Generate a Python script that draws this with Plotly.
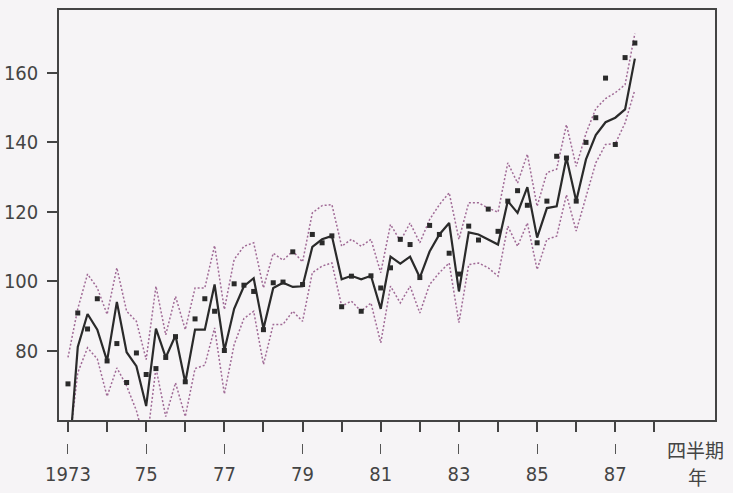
import plotly.graph_objects as go

# Quarterly series, 1973 Q1 - 1987 Q3
start_year = 1973
fitted = [45, 81, 90.5, 86, 77, 94, 79.5, 75.5, 64, 86.3,
          78, 84.3, 70.8, 86, 86, 99, 80, 92, 98.5, 100.8,
          86.3, 98, 99.5, 98.3, 98.5, 109.8, 112, 113, 100.5, 101.5,
          100.5, 101.5, 92, 107, 105, 107, 101, 108.5, 113.4, 116.7,
          97, 114, 113.4, 112, 110.5, 123, 119.6, 127, 112.5, 121,
          121.5, 135.5, 123, 135, 142, 145.7, 147, 149.4, 164]
upper = [78, 92, 102, 98, 90.4, 103.8, 91.3, 88.4, 77.4, 98.5,
         84.5, 95.6, 86, 98, 98, 110.2, 91.8, 106.2, 110, 111,
         98, 108, 106, 108.6, 105.5, 119.6, 121.7, 122, 110, 112,
         110, 112, 102.4, 116.3, 111.5, 116.7, 111, 117.7, 122, 125.4,
         112, 122.5, 122.5, 121, 119.8, 134, 128.2, 136.5, 121.5, 131.2,
         132.2, 145, 133, 142.5, 149.6, 152.5, 154.2, 156.5, 171.2]
lower = [50, 73.6, 80.8, 77.6, 66.8, 75, 69.8, 62.7, 52, 75,
         61, 70.7, 61, 74.8, 75.8, 86.5, 67.5, 81.7, 89.2, 91.3,
         76, 87.5, 87.5, 91.3, 88.4, 102.4, 104.3, 105.2, 92.8, 94.2,
         91.3, 93.7, 82.2, 98.5, 93.7, 98.5, 90.8, 99, 102.4, 105.2,
         88, 104.7, 105.2, 103.8, 101.4, 115.8, 110, 116.7, 103.3, 112,
         112.9, 124.8, 114.4, 124, 134, 139.3, 139.5, 145.5, 155]
actual = [70.4, 90.8, 86.2, 94.9, 77, 82, 70.8, 79.3, 73.1, 74.8,
          78, 84, 71, 89.1, 94.9, 91.3, 80, 99.2, 98.8, 97,
          86, 99.5, 99.7, 108.4, 99, 113.4, 111, 113, 92.6, 101.4,
          91.3, 101.5, 98, 103.8, 112, 110.5, 101, 116, 113.4, 108,
          102, 115.8, 111.8, 120.7, 114.3, 123, 126, 121.8, 111, 123,
          135.9, 135.4, 123, 139.9, 147, 158.4, 139.3, 164.3, 168.5]

y_ticks = [80, 100, 120, 140, 160]
quarter_ticks = list(range(1973, 1989))
year_ticks = [1973, 1975, 1977, 1979, 1981, 1983, 1985, 1987]
year_labels = ["1973", "75", "77", "79", "81", "83", "85", "87"]

x = [start_year + i / 4 for i in range(len(fitted))]

ink = "#444444"
band = "#a06a96"
font_main = "DejaVu Sans Condensed, DejaVu Sans, sans-serif"
x_range = [1972.77, 1989.55]

fig = go.Figure()
for series in (upper, lower):
    fig.add_trace(go.Scatter(x=x, y=series, mode="lines",
                             line=dict(color=band, width=1.5, dash="2px,2px"),
                             hoverinfo="skip"))
fig.add_trace(go.Scatter(x=x, y=fitted, mode="lines",
                         line=dict(color="#2a2a2a", width=2.2)))
fig.add_trace(go.Scatter(x=x, y=actual, mode="markers", xaxis="x2",
                         marker=dict(symbol="square", size=5, color="#2a2a2a")))

fig.update_layout(
    width=733, height=493,
    margin=dict(l=59, r=18, t=10, b=50, autoexpand=False),
    paper_bgcolor="#f6f4f6", plot_bgcolor="#f6f4f6",
    showlegend=False,
    font=dict(family=font_main, size=20, color=ink),
    # axis on the frame: a tick for every year
    xaxis=dict(range=x_range, tickmode="array", tickvals=quarter_ticks,
               showticklabels=False, automargin=False,
               ticks="outside", ticklen=10, tickwidth=1.5, tickcolor="#444",
               showline=True, linecolor="#444", linewidth=1.5, mirror=True,
               showgrid=False, zeroline=False),
    # lower row: year marks and labels every second year
    xaxis2=dict(matches="x", overlaying="x", anchor="free", position=0,
                side="bottom", tickmode="array", tickvals=year_ticks,
                ticktext=year_labels, ticks="outside", ticklen=10,
                tickwidth=1.3, tickcolor="#555", showline=False,
                automargin=False,
                showgrid=False, zeroline=False, ticklabelstandoff=3),
    yaxis=dict(domain=[0.0531, 1], range=[60, 178], tickmode="array",
               tickvals=y_ticks, automargin=False,
               ticks="outside", ticklen=10, tickwidth=1.5, tickcolor="#444",
               showline=True, linecolor="#444", linewidth=1.5, mirror=True,
               showgrid=False, zeroline=False, ticklabelstandoff=5),
)

fig.add_annotation(text="四半期", xref="paper", yref="paper", x=0.971, y=-0.014,
                   xanchor="center", yanchor="middle", showarrow=False,
                   font=dict(family="Noto Sans CJK JP", size=19, color=ink))
fig.add_annotation(text="年", xref="paper", yref="paper", x=0.974, y=-0.077,
                   xanchor="center", yanchor="middle", showarrow=False,
                   font=dict(family="Noto Sans CJK JP", size=19, color=ink))

fig.write_html("out.html")
